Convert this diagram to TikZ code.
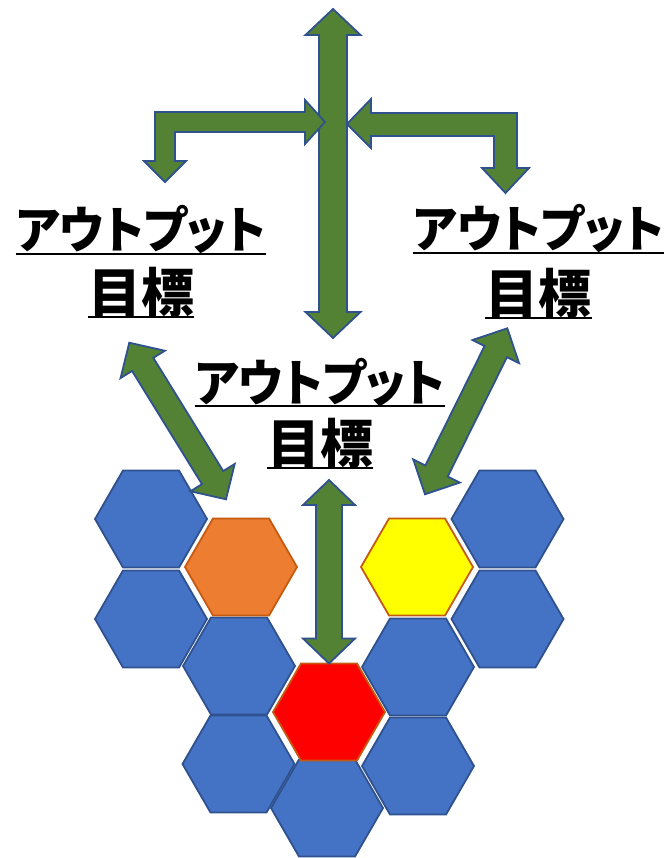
\documentclass[tikz,border=0pt]{standalone}
\usepackage{fontspec}
\newfontfamily\jpfont{Noto Sans CJK JP}[RawFeature=+palt]
\newfontfamily\jpkana{Noto Sans CJK JP}[RawFeature=+palt,FakeStretch=0.94]
\usepackage{tikz}
\usetikzlibrary{shapes.geometric, positioning, calc}
\definecolor{hexblue}{RGB}{68,114,196}
\definecolor{lineblue}{RGB}{47,82,143}
\definecolor{hexorange}{RGB}{237,125,49}
\definecolor{lineorange}{RGB}{197,90,17}
\definecolor{hexyellow}{RGB}{255,255,0}
\definecolor{hexred}{RGB}{255,0,0}
\definecolor{arrgreen}{RGB}{84,130,53}
\tikzset{
  hexbase/.style={regular polygon,regular polygon sides=6,minimum size=112pt,inner sep=0pt,outer sep=0pt,line width=1.8pt},
  bluehex/.style={hexbase,fill=hexblue,draw=lineblue},
  orangehex/.style={hexbase,fill=hexorange,draw=lineorange},
  yellowhex/.style={hexbase,fill=hexyellow,draw=lineorange},
  redhex/.style={hexbase,fill=hexred,draw=lineorange},
  blockarr/.style={fill=arrgreen,draw=lineblue,line width=1.8pt,line join=miter},
  kanatext/.style={inner sep=0pt,anchor=base,font=\jpkana\bfseries\fontsize{50}{56}\selectfont},
  goaltext/.style={inner sep=0pt,anchor=base,font=\jpfont\bfseries\fontsize{53}{58}\selectfont},
  uline/.style={line width=2.4pt,color=black}
}
% tail, tip, shaft half width, head half width, head length
\newcommand{\dblarrow}[5]{%
  \draw[blockarr] (#1)
    -- ($(#1)!#5!(#2)!#4!90:(#2)$) -- ($(#1)!#5!(#2)!#3!90:(#2)$)
    -- ($(#2)!#5!(#1)!#3!-90:(#1)$) -- ($(#2)!#5!(#1)!#4!-90:(#1)$)
    -- (#2)
    -- ($(#2)!#5!(#1)!#4!90:(#1)$) -- ($(#2)!#5!(#1)!#3!90:(#1)$)
    -- ($(#1)!#5!(#2)!#3!-90:(#2)$) -- ($(#1)!#5!(#2)!#4!-90:(#2)$)
    -- cycle;}

\begin{document}
\begin{tikzpicture}[x=1pt,y=-1pt]
  \useasboundingbox (0,0) rectangle (666,858);

  \node[bluehex] (hexA) at (151,519) {};
  \node[bluehex] (hexB) at (151,619) {};
  \node[bluehex] (hexC) at (239,666) {};
  \node[bluehex] (hexD) at (238.5,764) {};
  \node[bluehex] (hexE) at (327,808) {};
  \node[bluehex] (hexF) at (418,667) {};
  \node[bluehex] (hexG) at (418,766) {};
  \node[bluehex] (hexH) at (507.5,519) {};
  \node[bluehex] (hexI) at (507.5,619) {};
  \node[orangehex] (hexO) at (241,567) {};
  \node[yellowhex] (hexY) at (417,567) {};
  \node[redhex] (hexR) at (329,712) {};

  \node[kanatext] (outL) at (141,249) {アウトプット};
  \node[goaltext] (goalL) at ([yshift=-63pt]outL.base) {目標};
  \node[kanatext] (outR) at (538.5,248) {アウトプット};
  \node[goaltext] (goalR) at ([yshift=-65pt]outR.base) {目標};
  \node[kanatext] (outC) at (320,401) {アウトプット};
  \node[goaltext] (goalC) at ([yshift=-62pt]outC.base) {目標};
  \foreach \n in {outL,goalL,outR,goalR,outC,goalC}
    \draw[uline] ([yshift=-5pt]\n.base west) -- ([yshift=-5pt]\n.base east);

  \coordinate (topTip) at (333,9);
  \coordinate (midTip) at (333,338);
  \coordinate (leftUp) at (129.3,342.7);
  \coordinate (leftDown) at (226,499.3);
  \coordinate (rightUp) at (507.3,328.3);
  \coordinate (rightDown) at (425,494.3);
  \coordinate (centerUp) at (329,480);

  \dblarrow{topTip}{midTip}{14pt}{27.5pt}{26pt}
  \dblarrow{leftUp}{leftDown}{12.5pt}{26pt}{25.5pt}
  \dblarrow{rightUp}{rightDown}{12.5pt}{26pt}{26pt}
  \dblarrow{centerUp}{hexR.north}{13pt}{26pt}{25pt}

  \draw[blockarr] (155,112) -- (305,112) -- (305,100) -- (325,122) -- (305,144) -- (305,132)
    -- (175,132) -- (175,161) -- (186,161) -- (165,182) -- (144,161) -- (155,161) -- cycle;
  \draw[blockarr] (347,124) -- (371,99) -- (371,113) -- (517,113) -- (517,168) -- (529,168)
    -- (505.5,193) -- (482,168) -- (494,168) -- (494,136) -- (371,136) -- (371,148) -- cycle;
\end{tikzpicture}
\end{document}
